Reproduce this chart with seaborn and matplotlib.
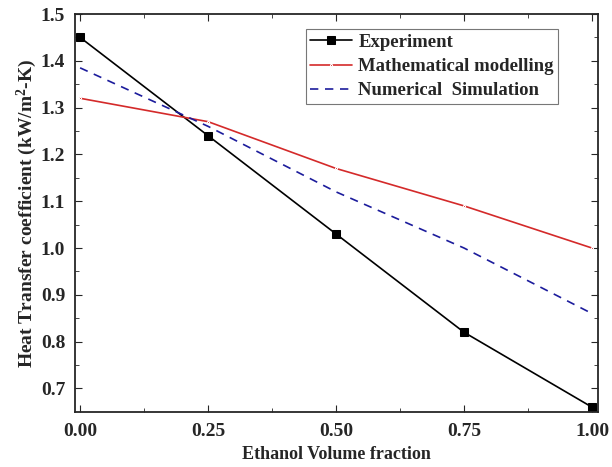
import numpy as np
import pandas as pd
import seaborn as sns
import matplotlib.pyplot as plt

# Δεδομένα
fraction = [0.00, 0.25, 0.50, 0.75, 1.00]
experiment = [1.45, 1.24, 1.03, 0.82, 0.66]
math_model = [1.32, 1.27, 1.17, 1.09, 1.00]
numerical = [1.385, 1.26, 1.12, 1.00, 0.86]

sns.set_style("ticks")
plt.rcParams['font.family'] = ['Liberation Serif', 'DejaVu Serif']
plt.rcParams['font.weight'] = 'bold'
plt.rcParams['mathtext.default'] = 'regular'

fig = plt.figure(figsize=(6.12, 4.67), dpi=100)
ax = fig.add_axes([0.1225, 0.118, 0.855, 0.852])

sns.lineplot(x=fraction, y=experiment, ax=ax, color='black', marker='s',
             markersize=6, markeredgecolor='black', linewidth=1.2, label='Experiment')
sns.lineplot(x=fraction, y=math_model, ax=ax, color='#d42a2a', marker='.',
             markersize=3, linewidth=1.2, label='Mathematical modelling')
sns.lineplot(x=fraction, y=numerical, ax=ax, color='#1c1c9c', linewidth=1.2,
             linestyle=(0, (5, 4)), label='Numerical  Simulation')

ax.set_xlim(-0.01, 1.012)
ax.set_ylim(0.65, 1.5)
ax.set_xticks([0.0, 0.25, 0.5, 0.75, 1.0])
ax.set_xticks([0.125, 0.375, 0.625, 0.875], minor=True)
ax.set_yticks(np.arange(0.7, 1.51, 0.1))
ax.set_yticks(np.arange(0.75, 1.5, 0.1), minor=True)
ax.set_xticklabels(['0.00', '0.25', '0.50', '0.75', '1.00'])
ax.set_yticklabels(['0.7', '0.8', '0.9', '1.0', '1.1', '1.2', '1.3', '1.4', '1.5'])
ax.tick_params(which='both', direction='in', top=True, right=True, labelsize=14)
ax.tick_params(which='major', length=5)
ax.tick_params(which='minor', length=3)
ax.tick_params(axis='x', pad=8)
ax.tick_params(axis='y', pad=7)
for s in ax.spines.values():
    s.set_linewidth(1.3)

ax.set_xlabel('Ethanol Volume fraction', fontsize=13, fontweight='bold', labelpad=4)
ax.set_ylabel('Heat Transfer coefficient (kW/m$^{2}$-K)', fontsize=14, fontweight='bold', labelpad=1)

leg = ax.legend(loc='upper right', bbox_to_anchor=(0.924, 0.962), fontsize=13.5,
                frameon=True, fancybox=False, edgecolor='#555555', handlelength=2.2,
                borderpad=0.25, labelspacing=0.38, handletextpad=0.35, borderaxespad=0)
leg.get_frame().set_linewidth(0.8)

fig.savefig('out.png', dpi=100)
